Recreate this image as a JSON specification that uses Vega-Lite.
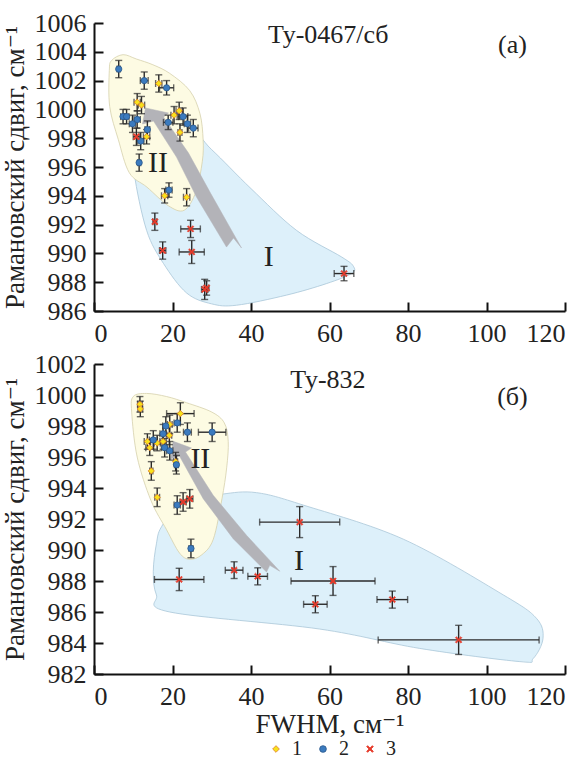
{
  "$schema": "https://vega.github.io/schema/vega-lite/v6.json",
  "background": "white",
  "padding": {"left": 0, "top": 10, "right": 2, "bottom": 0},
  "spacing": 5,
  "config": {
    "view": {"stroke": null},
    "font": "Liberation Serif, Times New Roman, DejaVu Serif, serif",
    "axis": {"grid": false, "domainColor": "#111", "domainWidth": 2, "tickColor": "#111", "tickWidth": 2, "tickSize": -9, "labelFont": "Liberation Serif, Times New Roman, DejaVu Serif, serif", "labelFontSize": 26, "labelColor": "#222", "titleFont": "Liberation Serif, Times New Roman, DejaVu Serif, serif", "titleFontSize": 27, "titleFontWeight": "normal", "titleColor": "#222", "format": "d"},
    "legend": {"labelFont": "Liberation Serif, Times New Roman, DejaVu Serif, serif", "labelFontSize": 20, "labelColor": "#222", "symbolSize": 45, "symbolStrokeWidth": 0.8, "columnPadding": 11, "labelOffset": 6}
  },
  "resolve": {"scale": {"y": "independent", "x": "independent"}},
  "datasets": {
    "pts": [
      {"p": "a", "t": "1", "x": 16.5, "y": 1001.8, "xe": 0.8, "ye": 0.6},
      {"p": "a", "t": "1", "x": 11.0, "y": 1000.5, "xe": 0.8, "ye": 0.6},
      {"p": "a", "t": "1", "x": 12.1, "y": 1000.3, "xe": 0.8, "ye": 0.6},
      {"p": "a", "t": "1", "x": 13.4, "y": 998.1, "xe": 0.8, "ye": 0.5},
      {"p": "a", "t": "1", "x": 20.4, "y": 999.6, "xe": 0.8, "ye": 0.6},
      {"p": "a", "t": "1", "x": 21.7, "y": 999.9, "xe": 0.8, "ye": 0.6},
      {"p": "a", "t": "1", "x": 21.9, "y": 998.4, "xe": 0.5, "ye": 0.6},
      {"p": "a", "t": "1", "x": 18.0, "y": 994.0, "xe": 0.8, "ye": 0.5},
      {"p": "a", "t": "1", "x": 23.6, "y": 993.9, "xe": 0.8, "ye": 0.6},
      {"p": "a", "t": "2", "x": 6.3, "y": 1002.8, "xe": 0.4, "ye": 0.6},
      {"p": "a", "t": "2", "x": 12.8, "y": 1002.0, "xe": 1.0, "ye": 0.6},
      {"p": "a", "t": "2", "x": 18.5, "y": 1001.5, "xe": 1.8, "ye": 0.5},
      {"p": "a", "t": "2", "x": 7.4, "y": 999.5, "xe": 0.6, "ye": 0.5},
      {"p": "a", "t": "2", "x": 8.3, "y": 999.5, "xe": 0.6, "ye": 0.5},
      {"p": "a", "t": "2", "x": 9.8, "y": 999.0, "xe": 0.8, "ye": 0.6},
      {"p": "a", "t": "2", "x": 11.0, "y": 999.3, "xe": 0.8, "ye": 0.6},
      {"p": "a", "t": "2", "x": 13.6, "y": 998.6, "xe": 0.6, "ye": 0.6},
      {"p": "a", "t": "2", "x": 11.9, "y": 997.8, "xe": 0.8, "ye": 0.6},
      {"p": "a", "t": "2", "x": 11.5, "y": 996.3, "xe": 0.4, "ye": 0.6},
      {"p": "a", "t": "2", "x": 18.9, "y": 999.1, "xe": 1.2, "ye": 0.5},
      {"p": "a", "t": "2", "x": 22.7, "y": 999.5, "xe": 1.2, "ye": 0.6},
      {"p": "a", "t": "2", "x": 23.8, "y": 999.0, "xe": 0.8, "ye": 0.6},
      {"p": "a", "t": "2", "x": 25.3, "y": 998.7, "xe": 1.2, "ye": 0.6},
      {"p": "a", "t": "2", "x": 19.1, "y": 994.4, "xe": 0.8, "ye": 0.5},
      {"p": "a", "t": "3", "x": 10.8, "y": 998.1, "xe": 0.8, "ye": 0.6},
      {"p": "a", "t": "3", "x": 15.5, "y": 992.2, "xe": 0.5, "ye": 0.6},
      {"p": "a", "t": "3", "x": 24.6, "y": 991.7, "xe": 2.5, "ye": 0.6},
      {"p": "a", "t": "3", "x": 17.5, "y": 990.2, "xe": 0.8, "ye": 0.6},
      {"p": "a", "t": "3", "x": 24.9, "y": 990.1, "xe": 3.2, "ye": 0.8},
      {"p": "a", "t": "3", "x": 28.2, "y": 987.5, "xe": 0.8, "ye": 0.7},
      {"p": "a", "t": "3", "x": 28.7, "y": 987.6, "xe": 0.6, "ye": 0.5},
      {"p": "a", "t": "3", "x": 63.7, "y": 988.6, "xe": 2.5, "ye": 0.5},
      {"p": "b", "t": "1", "x": 11.7, "y": 999.4, "xe": 0.6, "ye": 0.5},
      {"p": "b", "t": "1", "x": 11.8, "y": 999.1, "xe": 0.6, "ye": 0.5},
      {"p": "b", "t": "1", "x": 22.0, "y": 998.8, "xe": 3.5, "ye": 0.7},
      {"p": "b", "t": "1", "x": 19.3, "y": 998.1, "xe": 0.6, "ye": 0.6},
      {"p": "b", "t": "1", "x": 19.2, "y": 997.4, "xe": 0.6, "ye": 0.6},
      {"p": "b", "t": "1", "x": 13.6, "y": 997.0, "xe": 0.8, "ye": 0.5},
      {"p": "b", "t": "1", "x": 16.1, "y": 996.9, "xe": 0.8, "ye": 0.5},
      {"p": "b", "t": "1", "x": 17.6, "y": 997.0, "xe": 0.8, "ye": 0.5},
      {"p": "b", "t": "1", "x": 14.2, "y": 996.6, "xe": 1.0, "ye": 0.5},
      {"p": "b", "t": "1", "x": 20.8, "y": 995.7, "xe": 0.5, "ye": 0.6},
      {"p": "b", "t": "1", "x": 14.6, "y": 995.1, "xe": 0.4, "ye": 0.6},
      {"p": "b", "t": "1", "x": 16.1, "y": 993.4, "xe": 0.6, "ye": 0.6},
      {"p": "b", "t": "2", "x": 21.2, "y": 998.2, "xe": 0.8, "ye": 0.6},
      {"p": "b", "t": "2", "x": 18.3, "y": 998.0, "xe": 0.8, "ye": 0.6},
      {"p": "b", "t": "2", "x": 23.8, "y": 997.6, "xe": 1.0, "ye": 0.6},
      {"p": "b", "t": "2", "x": 30.1, "y": 997.6, "xe": 3.5, "ye": 0.6},
      {"p": "b", "t": "2", "x": 17.6, "y": 997.5, "xe": 0.8, "ye": 0.6},
      {"p": "b", "t": "2", "x": 15.1, "y": 997.1, "xe": 1.0, "ye": 0.6},
      {"p": "b", "t": "2", "x": 18.0, "y": 996.6, "xe": 0.8, "ye": 0.6},
      {"p": "b", "t": "2", "x": 19.3, "y": 996.4, "xe": 0.8, "ye": 0.6},
      {"p": "b", "t": "2", "x": 21.0, "y": 995.5, "xe": 0.5, "ye": 0.6},
      {"p": "b", "t": "2", "x": 21.2, "y": 992.9, "xe": 0.8, "ye": 0.6},
      {"p": "b", "t": "2", "x": 24.7, "y": 990.1, "xe": 0.5, "ye": 0.6},
      {"p": "b", "t": "3", "x": 22.7, "y": 993.1, "xe": 0.8, "ye": 0.6},
      {"p": "b", "t": "3", "x": 24.4, "y": 993.3, "xe": 0.8, "ye": 0.6},
      {"p": "b", "t": "3", "x": 52.4, "y": 991.8, "xe": 10.2, "ye": 1.0},
      {"p": "b", "t": "3", "x": 21.7, "y": 988.1, "xe": 6.3, "ye": 0.72},
      {"p": "b", "t": "3", "x": 35.7, "y": 988.7, "xe": 2.25, "ye": 0.54},
      {"p": "b", "t": "3", "x": 41.7, "y": 988.3, "xe": 2.5, "ye": 0.55},
      {"p": "b", "t": "3", "x": 60.9, "y": 988.0, "xe": 10.7, "ye": 0.93},
      {"p": "b", "t": "3", "x": 56.4, "y": 986.5, "xe": 3.0, "ye": 0.55},
      {"p": "b", "t": "3", "x": 76.0, "y": 986.8, "xe": 3.9, "ye": 0.55},
      {"p": "b", "t": "3", "x": 92.9, "y": 984.2, "xe": 20.5, "ye": 0.94}
    ],
    "shp": [
      {"p": "a", "s": "I", "i": 1, "x": 10.3, "y": 995.5},
      {"p": "a", "s": "I", "i": 2, "x": 13.4, "y": 991.6},
      {"p": "a", "s": "I", "i": 3, "x": 17.7, "y": 989.3},
      {"p": "a", "s": "I", "i": 4, "x": 23.6, "y": 987.25},
      {"p": "a", "s": "I", "i": 5, "x": 29.9, "y": 986.5},
      {"p": "a", "s": "I", "i": 6, "x": 36.3, "y": 986.4},
      {"p": "a", "s": "I", "i": 7, "x": 49.0, "y": 987.1},
      {"p": "a", "s": "I", "i": 8, "x": 59.2, "y": 987.9},
      {"p": "a", "s": "I", "i": 9, "x": 65.6, "y": 988.6},
      {"p": "a", "s": "I", "i": 10, "x": 66.1, "y": 989.1},
      {"p": "a", "s": "I", "i": 11, "x": 63.1, "y": 989.75},
      {"p": "a", "s": "I", "i": 12, "x": 51.6, "y": 991.6},
      {"p": "a", "s": "I", "i": 13, "x": 40.0, "y": 994.5},
      {"p": "a", "s": "I", "i": 14, "x": 30.0, "y": 997.2},
      {"p": "a", "s": "I", "i": 15, "x": 23.6, "y": 998.6},
      {"p": "a", "s": "I", "i": 16, "x": 10.8, "y": 997.2},
      {"p": "a", "s": "II", "i": 1, "x": 3.9, "y": 1002.7},
      {"p": "a", "s": "II", "i": 2, "x": 4.5, "y": 1003.4},
      {"p": "a", "s": "II", "i": 3, "x": 7.4, "y": 1003.8},
      {"p": "a", "s": "II", "i": 4, "x": 10.8, "y": 1003.5},
      {"p": "a", "s": "II", "i": 5, "x": 15.0, "y": 1003.1},
      {"p": "a", "s": "II", "i": 6, "x": 19.3, "y": 1002.5},
      {"p": "a", "s": "II", "i": 7, "x": 24.4, "y": 1001.3},
      {"p": "a", "s": "II", "i": 8, "x": 27.0, "y": 999.7},
      {"p": "a", "s": "II", "i": 9, "x": 27.8, "y": 997.9},
      {"p": "a", "s": "II", "i": 10, "x": 27.6, "y": 996.4},
      {"p": "a", "s": "II", "i": 11, "x": 26.0, "y": 994.3},
      {"p": "a", "s": "II", "i": 12, "x": 23.0, "y": 993.0},
      {"p": "a", "s": "II", "i": 13, "x": 19.0, "y": 993.3},
      {"p": "a", "s": "II", "i": 14, "x": 13.5, "y": 994.6},
      {"p": "a", "s": "II", "i": 15, "x": 9.0, "y": 995.6},
      {"p": "a", "s": "II", "i": 16, "x": 6.2, "y": 997.9},
      {"p": "a", "s": "II", "i": 17, "x": 4.0, "y": 1000.2},
      {"p": "a", "s": "A", "i": 1, "x": 13.12, "y": 1000.1},
      {"p": "a", "s": "A", "i": 2, "x": 18.98, "y": 999.75},
      {"p": "a", "s": "A", "i": 3, "x": 17.71, "y": 999.47},
      {"p": "a", "s": "A", "i": 4, "x": 24.08, "y": 996.97},
      {"p": "a", "s": "A", "i": 5, "x": 29.68, "y": 994.19},
      {"p": "a", "s": "A", "i": 6, "x": 37.58, "y": 990.38},
      {"p": "a", "s": "A", "i": 7, "x": 35.54, "y": 991.07},
      {"p": "a", "s": "A", "i": 8, "x": 33.76, "y": 990.44},
      {"p": "a", "s": "A", "i": 9, "x": 26.11, "y": 993.92},
      {"p": "a", "s": "A", "i": 10, "x": 21.02, "y": 996.69},
      {"p": "a", "s": "A", "i": 11, "x": 15.16, "y": 999.19},
      {"p": "a", "s": "A", "i": 12, "x": 12.36, "y": 998.99},
      {"p": "b", "s": "I", "i": 1, "x": 17.2, "y": 991.5},
      {"p": "b", "s": "I", "i": 2, "x": 22.3, "y": 993.1},
      {"p": "b", "s": "I", "i": 3, "x": 32.5, "y": 993.6},
      {"p": "b", "s": "I", "i": 4, "x": 41.4, "y": 993.7},
      {"p": "b", "s": "I", "i": 5, "x": 53.3, "y": 992.9},
      {"p": "b", "s": "I", "i": 6, "x": 78.8, "y": 990.7},
      {"p": "b", "s": "I", "i": 7, "x": 104.3, "y": 987.1},
      {"p": "b", "s": "I", "i": 8, "x": 112.7, "y": 985.6},
      {"p": "b", "s": "I", "i": 9, "x": 114.4, "y": 984.3},
      {"p": "b", "s": "I", "i": 10, "x": 111.9, "y": 983.0},
      {"p": "b", "s": "I", "i": 11, "x": 108.5, "y": 982.8},
      {"p": "b", "s": "I", "i": 12, "x": 83.0, "y": 983.65},
      {"p": "b", "s": "I", "i": 13, "x": 57.5, "y": 984.9},
      {"p": "b", "s": "I", "i": 14, "x": 19.3, "y": 986.0},
      {"p": "b", "s": "I", "i": 15, "x": 15.9, "y": 987.1},
      {"p": "b", "s": "I", "i": 16, "x": 15.1, "y": 988.6},
      {"p": "b", "s": "I", "i": 17, "x": 15.9, "y": 990.4},
      {"p": "b", "s": "II", "i": 1, "x": 10.0, "y": 999.9},
      {"p": "b", "s": "II", "i": 2, "x": 13.4, "y": 1000.1},
      {"p": "b", "s": "II", "i": 3, "x": 18.5, "y": 999.9},
      {"p": "b", "s": "II", "i": 4, "x": 23.6, "y": 999.5},
      {"p": "b", "s": "II", "i": 5, "x": 30.0, "y": 998.9},
      {"p": "b", "s": "II", "i": 6, "x": 33.2, "y": 998.2},
      {"p": "b", "s": "II", "i": 7, "x": 34.2, "y": 997.0},
      {"p": "b", "s": "II", "i": 8, "x": 33.8, "y": 995.3},
      {"p": "b", "s": "II", "i": 9, "x": 32.6, "y": 993.3},
      {"p": "b", "s": "II", "i": 10, "x": 30.4, "y": 990.7},
      {"p": "b", "s": "II", "i": 11, "x": 27.5, "y": 989.7},
      {"p": "b", "s": "II", "i": 12, "x": 24.4, "y": 989.4},
      {"p": "b", "s": "II", "i": 13, "x": 21.8, "y": 989.8},
      {"p": "b", "s": "II", "i": 14, "x": 18.5, "y": 991.3},
      {"p": "b", "s": "II", "i": 15, "x": 14.5, "y": 993.2},
      {"p": "b", "s": "II", "i": 16, "x": 11.0, "y": 996.0},
      {"p": "b", "s": "II", "i": 17, "x": 9.6, "y": 998.9},
      {"p": "b", "s": "A", "i": 1, "x": 20.18, "y": 997.01},
      {"p": "b", "s": "A", "i": 2, "x": 24.84, "y": 996.58},
      {"p": "b", "s": "A", "i": 3, "x": 23.31, "y": 996.32},
      {"p": "b", "s": "A", "i": 4, "x": 30.37, "y": 993.53},
      {"p": "b", "s": "A", "i": 5, "x": 38.85, "y": 990.95},
      {"p": "b", "s": "A", "i": 6, "x": 47.34, "y": 988.63},
      {"p": "b", "s": "A", "i": 7, "x": 44.79, "y": 989.01},
      {"p": "b", "s": "A", "i": 8, "x": 43.95, "y": 988.58},
      {"p": "b", "s": "A", "i": 9, "x": 35.46, "y": 990.73},
      {"p": "b", "s": "A", "i": 10, "x": 27.82, "y": 993.31},
      {"p": "b", "s": "A", "i": 11, "x": 21.78, "y": 996.06},
      {"p": "b", "s": "A", "i": 12, "x": 19.49, "y": 995.87}
    ],
    "lab": [
      {"p": "a", "k": "t", "s": "Ту-0467/сб", "x": 59.7, "y": 1005.2},
      {"p": "a", "k": "t", "s": "(а)", "x": 106.6, "y": 1004.5},
      {"p": "a", "k": "r", "s": "II", "x": 16.3, "y": 996.3},
      {"p": "a", "k": "r", "s": "I", "x": 44.5, "y": 989.75},
      {"p": "b", "k": "t", "s": "Ту-832", "x": 59.6, "y": 1000.97},
      {"p": "b", "k": "t", "s": "(б)", "x": 106.6, "y": 999.87},
      {"p": "b", "k": "r", "s": "II", "x": 27.1, "y": 995.9},
      {"p": "b", "k": "r", "s": "I", "x": 52.2, "y": 989.3}
    ]
  },
  "vconcat": [
    {
      "width": 471,
      "height": 288,
      "encoding": {
        "x": {"field": "x", "type": "quantitative", "scale": {"domain": [0, 120], "nice": false, "zero": false}, "axis": {"values": [0, 20, 40, 60, 80, 100, 120], "title": null, "labelPadding": 18}},
        "y": {"field": "y", "type": "quantitative", "scale": {"domain": [986, 1006], "nice": false, "zero": false}, "axis": {"values": [986, 988, 990, 992, 994, 996, 998, 1000, 1002, 1004, 1006], "title": "Рамановский сдвиг, см⁻¹", "labelPadding": 17, "titlePadding": 5}}
      },
      "layer": [
        {"data": {"name": "shp"}, "transform": [{"filter": "datum.p == 'a' && datum.s == 'I'"}], "mark": {"type": "line", "interpolate": "cardinal-closed", "fill": "#ddf0fa", "stroke": "#a9c7d8", "strokeWidth": 0.8}, "encoding": {"order": {"field": "i", "type": "quantitative"}}},
        {"data": {"name": "shp"}, "transform": [{"filter": "datum.p == 'a' && datum.s == 'II'"}], "mark": {"type": "line", "interpolate": "cardinal-closed", "fill": "#fdfbe3", "stroke": "#d6d0ac", "strokeWidth": 0.8}, "encoding": {"order": {"field": "i", "type": "quantitative"}}},
        {"data": {"name": "shp"}, "transform": [{"filter": "datum.p == 'a' && datum.s == 'A'"}], "mark": {"type": "line", "interpolate": "linear-closed", "fill": "#b3b3b8", "stroke": "#b3b3b8", "strokeWidth": 0.5}, "encoding": {"order": {"field": "i", "type": "quantitative"}}},
        {"data": {"name": "pts"}, "transform": [{"filter": "datum.p == 'a'"}], "mark": {"type": "errorbar", "color": "#2a2a2a", "thickness": 1.4, "ticks": {"size": 7, "thickness": 1.4}}, "encoding": {"yError": {"field": "ye"}}},
        {"data": {"name": "pts"}, "transform": [{"filter": "datum.p == 'a'"}], "mark": {"type": "errorbar", "color": "#2a2a2a", "thickness": 1.4, "ticks": {"size": 7, "thickness": 1.4}}, "encoding": {"xError": {"field": "xe"}}},
        {"data": {"name": "pts"}, "transform": [{"filter": "datum.p == 'a'"}], "mark": {"type": "point", "filled": true, "size": 40, "strokeWidth": 0.8, "opacity": 1},
         "encoding": {
           "color": {"field": "t", "type": "nominal", "scale": {"domain": ["1", "2", "3"], "range": ["#f7e21c", "#3b7bbf", "#e63a2a"]}, "legend": {"orient": "none", "legendX": 172, "legendY": 716, "direction": "horizontal", "title": null}},
           "shape": {"field": "t", "type": "nominal", "scale": {"domain": ["1", "2", "3"], "range": ["diamond", "circle", "M-1,-0.7L-0.7,-1L0,-0.3L0.7,-1L1,-0.7L0.3,0L1,0.7L0.7,1L0,0.3L-0.7,1L-1,0.7L-0.3,0Z"]}},
           "stroke": {"field": "t", "type": "nominal", "scale": {"domain": ["1", "2", "3"], "range": ["#e07a26", "#2a578a", "#e63a2a"]}}
         }},
        {"data": {"name": "lab"}, "transform": [{"filter": "datum.p == 'a' && datum.k == 't'"}], "mark": {"type": "text", "font": "Liberation Serif, Times New Roman, DejaVu Serif, serif", "fontSize": 26, "color": "#222", "align": "center", "baseline": "middle"}, "encoding": {"text": {"field": "s"}}},
        {"data": {"name": "lab"}, "transform": [{"filter": "datum.p == 'a' && datum.k == 'r'"}], "mark": {"type": "text", "font": "Liberation Serif, Times New Roman, DejaVu Serif, serif", "fontSize": 30, "color": "#222", "align": "center", "baseline": "middle"}, "encoding": {"text": {"field": "s"}}}
      ]
    },
    {
      "width": 471,
      "height": 310,
      "encoding": {
        "x": {"field": "x", "type": "quantitative", "scale": {"domain": [0, 120], "nice": false, "zero": false}, "axis": {"values": [0, 20, 40, 60, 80, 100, 120], "title": "FWHM, см⁻¹", "labelPadding": 18, "titlePadding": 2}},
        "y": {"field": "y", "type": "quantitative", "scale": {"domain": [982, 1002], "nice": false, "zero": false}, "axis": {"values": [982, 984, 986, 988, 990, 992, 994, 996, 998, 1000, 1002], "title": "Рамановский сдвиг, см⁻¹", "labelPadding": 17, "titlePadding": 5}}
      },
      "layer": [
        {"data": {"name": "shp"}, "transform": [{"filter": "datum.p == 'b' && datum.s == 'I'"}], "mark": {"type": "line", "interpolate": "cardinal-closed", "fill": "#ddf0fa", "stroke": "#a9c7d8", "strokeWidth": 0.8}, "encoding": {"order": {"field": "i", "type": "quantitative"}}},
        {"data": {"name": "shp"}, "transform": [{"filter": "datum.p == 'b' && datum.s == 'II'"}], "mark": {"type": "line", "interpolate": "cardinal-closed", "fill": "#fdfbe3", "stroke": "#d6d0ac", "strokeWidth": 0.8}, "encoding": {"order": {"field": "i", "type": "quantitative"}}},
        {"data": {"name": "shp"}, "transform": [{"filter": "datum.p == 'b' && datum.s == 'A'"}], "mark": {"type": "line", "interpolate": "linear-closed", "fill": "#b3b3b8", "stroke": "#b3b3b8", "strokeWidth": 0.5}, "encoding": {"order": {"field": "i", "type": "quantitative"}}},
        {"data": {"name": "pts"}, "transform": [{"filter": "datum.p == 'b'"}], "mark": {"type": "errorbar", "color": "#2a2a2a", "thickness": 1.4, "ticks": {"size": 7, "thickness": 1.4}}, "encoding": {"yError": {"field": "ye"}}},
        {"data": {"name": "pts"}, "transform": [{"filter": "datum.p == 'b'"}], "mark": {"type": "errorbar", "color": "#2a2a2a", "thickness": 1.4, "ticks": {"size": 7, "thickness": 1.4}}, "encoding": {"xError": {"field": "xe"}}},
        {"data": {"name": "pts"}, "transform": [{"filter": "datum.p == 'b'"}], "mark": {"type": "point", "filled": true, "size": 40, "strokeWidth": 0.8, "opacity": 1},
         "encoding": {
           "color": {"field": "t", "type": "nominal", "scale": {"domain": ["1", "2", "3"], "range": ["#f7e21c", "#3b7bbf", "#e63a2a"]}, "legend": {"orient": "none", "legendX": 172, "legendY": 716, "direction": "horizontal", "title": null}},
           "shape": {"field": "t", "type": "nominal", "scale": {"domain": ["1", "2", "3"], "range": ["diamond", "circle", "M-1,-0.7L-0.7,-1L0,-0.3L0.7,-1L1,-0.7L0.3,0L1,0.7L0.7,1L0,0.3L-0.7,1L-1,0.7L-0.3,0Z"]}},
           "stroke": {"field": "t", "type": "nominal", "scale": {"domain": ["1", "2", "3"], "range": ["#e07a26", "#2a578a", "#e63a2a"]}}
         }},
        {"data": {"name": "lab"}, "transform": [{"filter": "datum.p == 'b' && datum.k == 't'"}], "mark": {"type": "text", "font": "Liberation Serif, Times New Roman, DejaVu Serif, serif", "fontSize": 26, "color": "#222", "align": "center", "baseline": "middle"}, "encoding": {"text": {"field": "s"}}},
        {"data": {"name": "lab"}, "transform": [{"filter": "datum.p == 'b' && datum.k == 'r'"}], "mark": {"type": "text", "font": "Liberation Serif, Times New Roman, DejaVu Serif, serif", "fontSize": 30, "color": "#222", "align": "center", "baseline": "middle"}, "encoding": {"text": {"field": "s"}}}
      ]
    }
  ]
}
